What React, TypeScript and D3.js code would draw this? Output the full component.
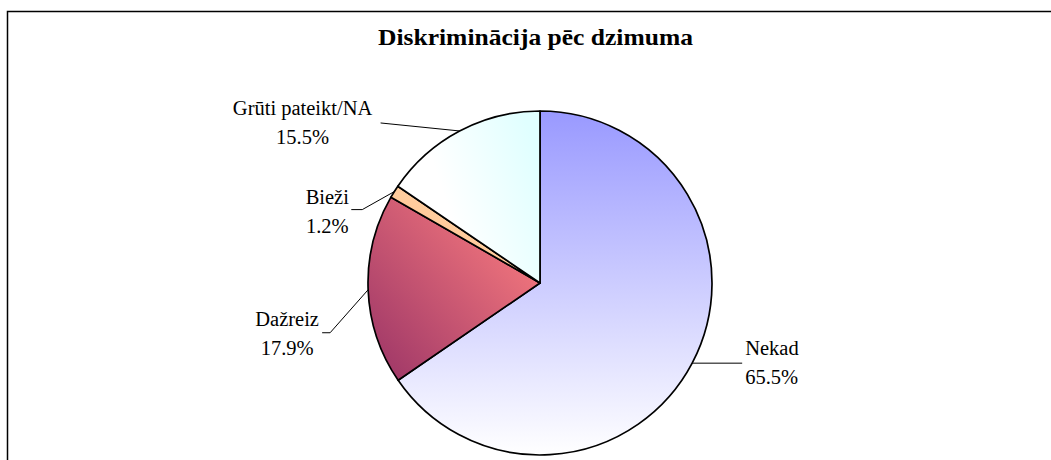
import React from "react";
import * as d3 from "d3";

// data
const categories = ["Nekad", "Dažreiz", "Bieži", "Grūti pateikt/NA"];
const shares = [65.5, 17.9, 1.2, 15.5];
const title = "Diskriminācija pēc dzimuma";

const W = 1051, H = 460;
const cx = 540, cy = 283, R = 172;

// leader line layout, relative to the point where the slice's mid angle meets the rim
const labelLayout = [
  { elbow: [50, 0], end: [50, 0], tx: 3, ty: -8, anchor: "start" },
  { elbow: [-38, 43], end: [-46, 43], tx: -35, ty: -7, anchor: "middle" },
  { elbow: [-32, 18], end: [-43, 18], tx: -24, ty: -6, anchor: "middle" },
  { elbow: [-79, -8], end: [-79, -8], tx: -78, ty: -8, anchor: "middle" },
];

const gradients = [
  { id: "g0", x1: 0, y1: 0, x2: 0, y2: 1, from: "#9999ff", to: "#ffffff", start: 0 },
  { id: "g1", x1: 0, y1: 1, x2: 1, y2: 0.1, from: "#993366", to: "#ff8080", start: 0 },
  { id: "g2", x1: 0, y1: 1, x2: 1, y2: 0, from: "#ffc08a", to: "#ffd8b0", start: 0 },
  { id: "g3", x1: 0, y1: 0.7, x2: 1, y2: 0.3, from: "#ffffff", to: "#e0ffff", start: 0.35 },
];

export default function App() {
  const pie = d3.pie<number>().sort(null).value(d => d);
  const arcs = pie(shares);
  const arc = d3.arc<d3.PieArcDatum<number>>().innerRadius(0).outerRadius(R);
  const fmt = (v: number) => d3.format(".1f")(v) + "%";
  const font = "'Liberation Serif', 'Times New Roman', serif";

  return (
    <svg width={W} height={H} style={{ position: "absolute", left: 0, top: 0, background: "#fff" }} fontFamily={font}>
      <defs>
        {gradients.map(g => (
          <linearGradient key={g.id} id={g.id} x1={g.x1} y1={g.y1} x2={g.x2} y2={g.y2}>
            <stop offset={g.start} stopColor={g.from} />
            <stop offset="1" stopColor={g.to} />
          </linearGradient>
        ))}
      </defs>
      <rect x={7.5} y={11.5} width={1100} height={500} fill="#fff" stroke="#000" strokeWidth={1.5} />
      <text x={535.5} y={45} textAnchor="middle" fontSize={23} fontWeight="bold" textLength={315} lengthAdjust="spacingAndGlyphs">
        {title}
      </text>
      <g transform={`translate(${cx},${cy})`}>
        {arcs.map((a, i) => (
          <path key={i} d={arc(a) || ""} fill={`url(#g${i})`} stroke="#000" strokeWidth={1.7} strokeLinejoin="round" />
        ))}
      </g>
      {arcs.map((a, i) => {
        const mid = (a.startAngle + a.endAngle) / 2;
        const ex = cx + R * Math.sin(mid);
        const ey = cy - R * Math.cos(mid);
        const L = labelLayout[i];
        const bx = ex + L.elbow[0], by = ey + L.elbow[1];
        const nx = ex + L.end[0], ny = ey + L.end[1];
        const tx = nx + L.tx, ty = ny + L.ty;
        return (
          <g key={i}>
            <polyline points={`${ex},${ey} ${bx},${by} ${nx},${ny}`} fill="none" stroke="#000" strokeWidth={1} />
            <text x={tx} y={ty} textAnchor={L.anchor} fontSize={20.5}>
              <tspan x={tx}>{categories[i]}</tspan>
              <tspan x={tx} dy={29}>{fmt(shares[i])}</tspan>
            </text>
          </g>
        );
      })}
    </svg>
  );
}
